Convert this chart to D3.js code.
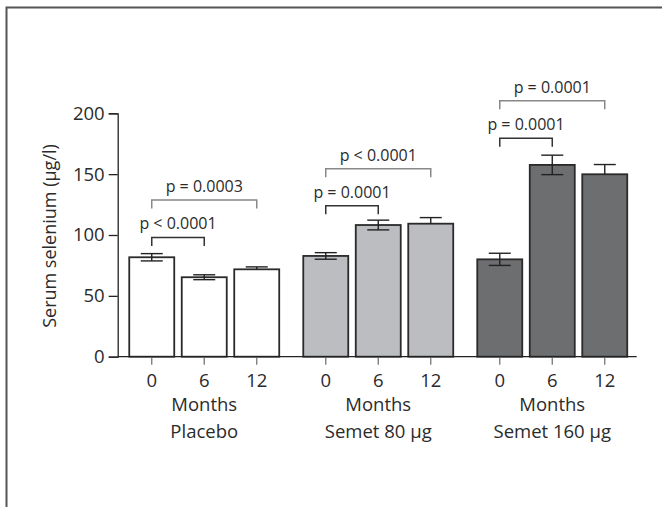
<!DOCTYPE html>
<html>
<head>
<meta charset="utf-8">
<script src="https://cdn.jsdelivr.net/npm/d3@7"></script>
<style>
  body { margin: 0; background: #fff; }
  text { font-family: "Open Sans", "Noto Sans", sans-serif; fill: #2b2b2b; }
</style>
</head>
<body>
<script>
// data
var groups = ["Placebo", "Semet 80 µg", "Semet 160 µg"];
var months = ["0", "6", "12"];
var placebo = [81.7, 65.3, 71.8];
var semet80 = [82.8, 108.2, 109.3];
var semet160 = [80, 157.6, 149.9];
var placeboErr = [3, 2, 2];
var semet80Err = [2.7, 4, 5];
var semet160Err = [5, 8, 8];
var lowerErrShown = [true, true, false];
var yTicks = [0, 50, 100, 150, 200];
// comparisons: [group, fromMonth, toMonth, level (µg/l), label]
var comparisons = [
  [0, "0", "6", 98, "p < 0.0001"],
  [0, "0", "12", 128.8, "p = 0.0003"],
  [1, "0", "6", 124, "p = 0.0001"],
  [1, "0", "12", 154.5, "p < 0.0001"],
  [2, "0", "6", 179.5, "p = 0.0001"],
  [2, "0", "12", 210.4, "p = 0.0001"]
];

var values = [placebo, semet80, semet160];
var errs = [placeboErr, semet80Err, semet160Err];
var fills = ["#ffffff", "#bcbdc0", "#6d6e70"];

var W = 662, H = 507;
var svg = d3.select("body").append("svg").attr("width", W).attr("height", H);

// frame
svg.append("path").attr("d", "M6.5,507 L6.5,7.5 L662,7.5")
  .attr("fill", "none").attr("stroke", "#555").attr("stroke-width", 2);

var y = d3.scaleLinear().domain([0, 200]).range([356.7, 113.3]);
var gx = d3.scaleBand().domain(groups).range([125.5, 631]).paddingInner(0.095).paddingOuter(0);
var mx = d3.scaleBand().domain(months).range([0, gx.bandwidth()]).paddingInner(0.143).paddingOuter(0.0715);

// y axis
var yAxis = svg.append("g").attr("transform", "translate(117.7,0)")
  .call(d3.axisLeft(y).tickValues(yTicks).tickSize(9).tickPadding(4));
yAxis.select(".domain").attr("stroke", "#222").attr("stroke-width", 1.3);
yAxis.selectAll(".tick line").attr("stroke", "#222").attr("stroke-width", 1.3);
yAxis.selectAll(".tick text").attr("font-size", 18.5).attr("fill", "#2b2b2b")
  .attr("font-family", "'Open Sans', 'Noto Sans', sans-serif");

svg.append("text")
  .attr("transform", "translate(50,236) rotate(-90)")
  .attr("text-anchor", "middle").attr("dy", "0.35em")
  .attr("font-size", 18)
  .text("Serum selenium (µg/l)");

// groups
var g = svg.selectAll(".grp").data(groups).enter().append("g")
  .attr("class", "grp")
  .attr("transform", function (d) { return "translate(" + gx(d) + ",0)"; });

g.each(function (gname, gi) {
  var sel = d3.select(this);
  var rows = months.map(function (m, i) {
    return { m: m, i: i, v: values[gi][i], e: errs[gi][i] };
  });

  sel.selectAll("rect").data(rows).enter().append("rect")
    .attr("x", function (d) { return mx(d.m); })
    .attr("width", mx.bandwidth())
    .attr("y", function (d) { return y(d.v); })
    .attr("height", function (d) { return y(0) - y(d.v); })
    .attr("fill", fills[gi])
    .attr("stroke", "#2a2a2a").attr("stroke-width", 1.8);

  // whiskers and caps
  rows.forEach(function (r) {
    var cx = mx(r.m) + mx.bandwidth() / 2;
    sel.append("line")
      .attr("x1", cx).attr("x2", cx)
      .attr("y1", y(r.v + r.e)).attr("y2", y(r.v))
      .attr("stroke", "#222").attr("stroke-width", 1.4);
    sel.append("line")
      .attr("x1", cx - 11).attr("x2", cx + 11)
      .attr("y1", y(r.v + r.e)).attr("y2", y(r.v + r.e))
      .attr("stroke", "#222").attr("stroke-width", 1.4);
    if (lowerErrShown[r.i]) {
      sel.append("line")
        .attr("x1", cx).attr("x2", cx)
        .attr("y1", y(r.v)).attr("y2", y(r.v - r.e))
        .attr("stroke", "#222").attr("stroke-width", 1.4);
      sel.append("line")
        .attr("x1", cx - 11).attr("x2", cx + 11)
        .attr("y1", y(r.v - r.e)).attr("y2", y(r.v - r.e))
        .attr("stroke", "#222").attr("stroke-width", 1.4);
    }
  });

  // month axis
  var ax = sel.append("g").attr("transform", "translate(0," + y(0) + ")")
    .call(d3.axisBottom(mx).tickSize(8).tickPadding(9));
  ax.select(".domain").remove();
  ax.selectAll(".tick line").attr("stroke", "#777").attr("stroke-width", 1.3);
  ax.selectAll(".tick text").attr("font-size", 18.5).attr("fill", "#2b2b2b")
    .attr("font-family", "'Open Sans', 'Noto Sans', sans-serif");

  sel.append("text").attr("x", gx.bandwidth() / 2).attr("y", 411)
    .attr("text-anchor", "middle").attr("font-size", 18.5).text("Months");
  sel.append("text").attr("x", gx.bandwidth() / 2).attr("y", 437.5)
    .attr("text-anchor", "middle").attr("font-size", 18.5).text(gname);
});

// x axis baseline
svg.append("line").attr("x1", 117.7).attr("x2", 636.7)
  .attr("y1", y(0)).attr("y2", y(0))
  .attr("stroke", "#222").attr("stroke-width", 1.3);

// significance brackets
comparisons.forEach(function (c) {
  var gname = groups[c[0]];
  var x1 = gx(gname) + mx(c[1]) + mx.bandwidth() / 2;
  var x2 = gx(gname) + mx(c[2]) + mx.bandwidth() / 2;
  var yy = y(c[3]);
  var col = (c[2] === "6") ? "#333" : "#888";
  svg.append("path")
    .attr("d", "M" + x1 + "," + (yy + 8.5) + "V" + yy + "H" + x2 + "V" + (yy + 8.5))
    .attr("fill", "none").attr("stroke", col).attr("stroke-width", 1.5);
  svg.append("text").attr("x", (x1 + x2) / 2).attr("y", yy - 8)
    .attr("text-anchor", "middle").attr("font-size", 16).text(c[4]);
});
</script>
</body>
</html>
